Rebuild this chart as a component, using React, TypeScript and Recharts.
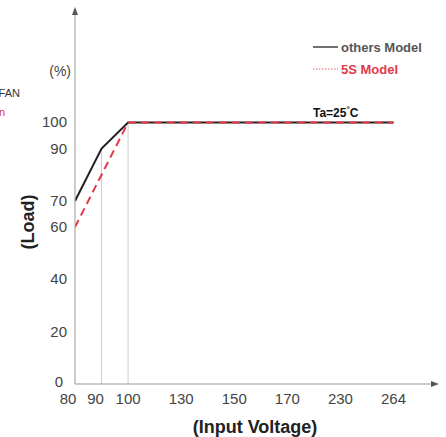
import React from 'react';
import { LineChart, Line, XAxis, YAxis, ReferenceLine } from 'recharts';

// input voltage categories (axis is not linear: 80-100 at half steps)
const voltages = [80, 90, 100, 130, 150, 170, 230, 264];
const loadTicks = [0, 20, 40, 60, 70, 90, 100];

const othersVoltage = [80, 90, 100, 264];
const othersLoad = [70, 90, 100, 100];
const s5Voltage = [80, 100, 264];
const s5Load = [60, 100, 100];

// axis position of a voltage
const vPos = (v: number) => {
  const i = voltages.indexOf(v);
  return i <= 2 ? i * 0.5 : i - 1;
};

const othersData = othersVoltage.map((v, i) => ({ x: vPos(v), load: othersLoad[i] }));
const s5Data = s5Voltage.map((v, i) => ({ x: vPos(v), load: s5Load[i] }));

const FONT = '"Liberation Sans", Arial, sans-serif';

const XTick = (props: any) => {
  const { x, y, payload, index } = props;
  const shift = index === 0 ? -7 : index === 1 ? -6 : 0;
  return (
    <text x={x + shift} y={y + 12} textAnchor="middle" fill="#444" fontSize={15} fontFamily={FONT}>
      {voltages[index] ?? payload.value}
    </text>
  );
};

const YTick = (props: any) => {
  const { x, y, payload } = props;
  const zero = payload.value === 0;
  return (
    <text x={x + (zero ? -4 : 0)} y={y + (zero ? -2 : 0)} dy={5} textAnchor="end" fill="#444" fontSize={15} fontFamily={FONT}>
      {payload.value}
    </text>
  );
};

export default function App() {
  return (
    <div style={{ position: 'absolute', left: 0, top: 0, width: 446, height: 437, background: '#fff' }}>
      <LineChart width={446} height={437} margin={{ top: 10, right: 10, left: 0, bottom: 0 }}>
        <XAxis
          type="number"
          dataKey="x"
          domain={[0, 6.8]}
          ticks={voltages.map(vPos)}
          tick={<XTick />}
          tickLine={false}
          axisLine={{ stroke: '#999' }}
          height={53}
          allowDataOverflow
        />
        <YAxis
          type="number"
          dataKey="load"
          domain={[0, 143]}
          ticks={loadTicks}
          tick={<YTick />}
          tickLine={false}
          axisLine={{ stroke: '#999' }}
          width={75}
          allowDataOverflow
        />
        <ReferenceLine
          segment={[{ x: vPos(90), y: 0 }, { x: vPos(90), y: othersLoad[1] }]}
          stroke="#ccc"
        />
        <ReferenceLine
          segment={[{ x: vPos(100), y: 0 }, { x: vPos(100), y: othersLoad[2] }]}
          stroke="#ccc"
        />
        <Line
          data={othersData}
          dataKey="load"
          type="linear"
          stroke="#222"
          strokeWidth={2}
          dot={false}
          isAnimationActive={false}
        />
        <Line
          data={s5Data}
          dataKey="load"
          type="linear"
          stroke="#e2394a"
          strokeWidth={2}
          strokeDasharray="8 5"
          dot={false}
          isAnimationActive={false}
        />
      </LineChart>
      <svg
        width={446}
        height={437}
        style={{ position: 'absolute', left: 0, top: 0, pointerEvents: 'none' }}
        fontFamily={FONT}
      >
        {/* axis arrows */}
        <polygon points="439,384 431,381 431,387" fill="#555" />
        <polygon points="75,7 72,15 78,15" fill="#555" />
        <text x={71} y={76} textAnchor="end" fill="#444" fontSize={14}>(%)</text>
        <text x={20} y={97} textAnchor="end" fill="#333" fontSize={11}>FAN</text>
        <text x={5} y={116} textAnchor="end" fill="#e2394a" fontSize={11}>n</text>
        {/* legend */}
        <line x1={313} y1={47} x2={338} y2={47} stroke="#222" strokeWidth={1.3} />
        <text x={341} y={52} fill="#555" fontSize={13} fontWeight="bold">others Model</text>
        <line x1={313} y1={69} x2={338} y2={69} stroke="#e06070" strokeWidth={1.2} strokeDasharray="1.5 1.5" />
        <text x={341} y={74} fill="#e2394a" fontSize={13} fontWeight="bold">5S Model</text>
        <text x={313} y={117} fill="#111" fontSize={12} fontWeight="bold">
          Ta=25<tspan dy={-5} fontSize={8}>°</tspan><tspan dy={5}>C</tspan>
        </text>
        {/* axis titles */}
        <text x={255} y={433} textAnchor="middle" fill="#222" fontSize={18} fontWeight="bold">(Input Voltage)</text>
        <text
          x={29}
          y={222}
          transform="rotate(-90 29 222)"
          textAnchor="middle"
          dominantBaseline="middle"
          fill="#222"
          fontSize={18}
          fontWeight="bold"
        >
          (Load)
        </text>
      </svg>
    </div>
  );
}
